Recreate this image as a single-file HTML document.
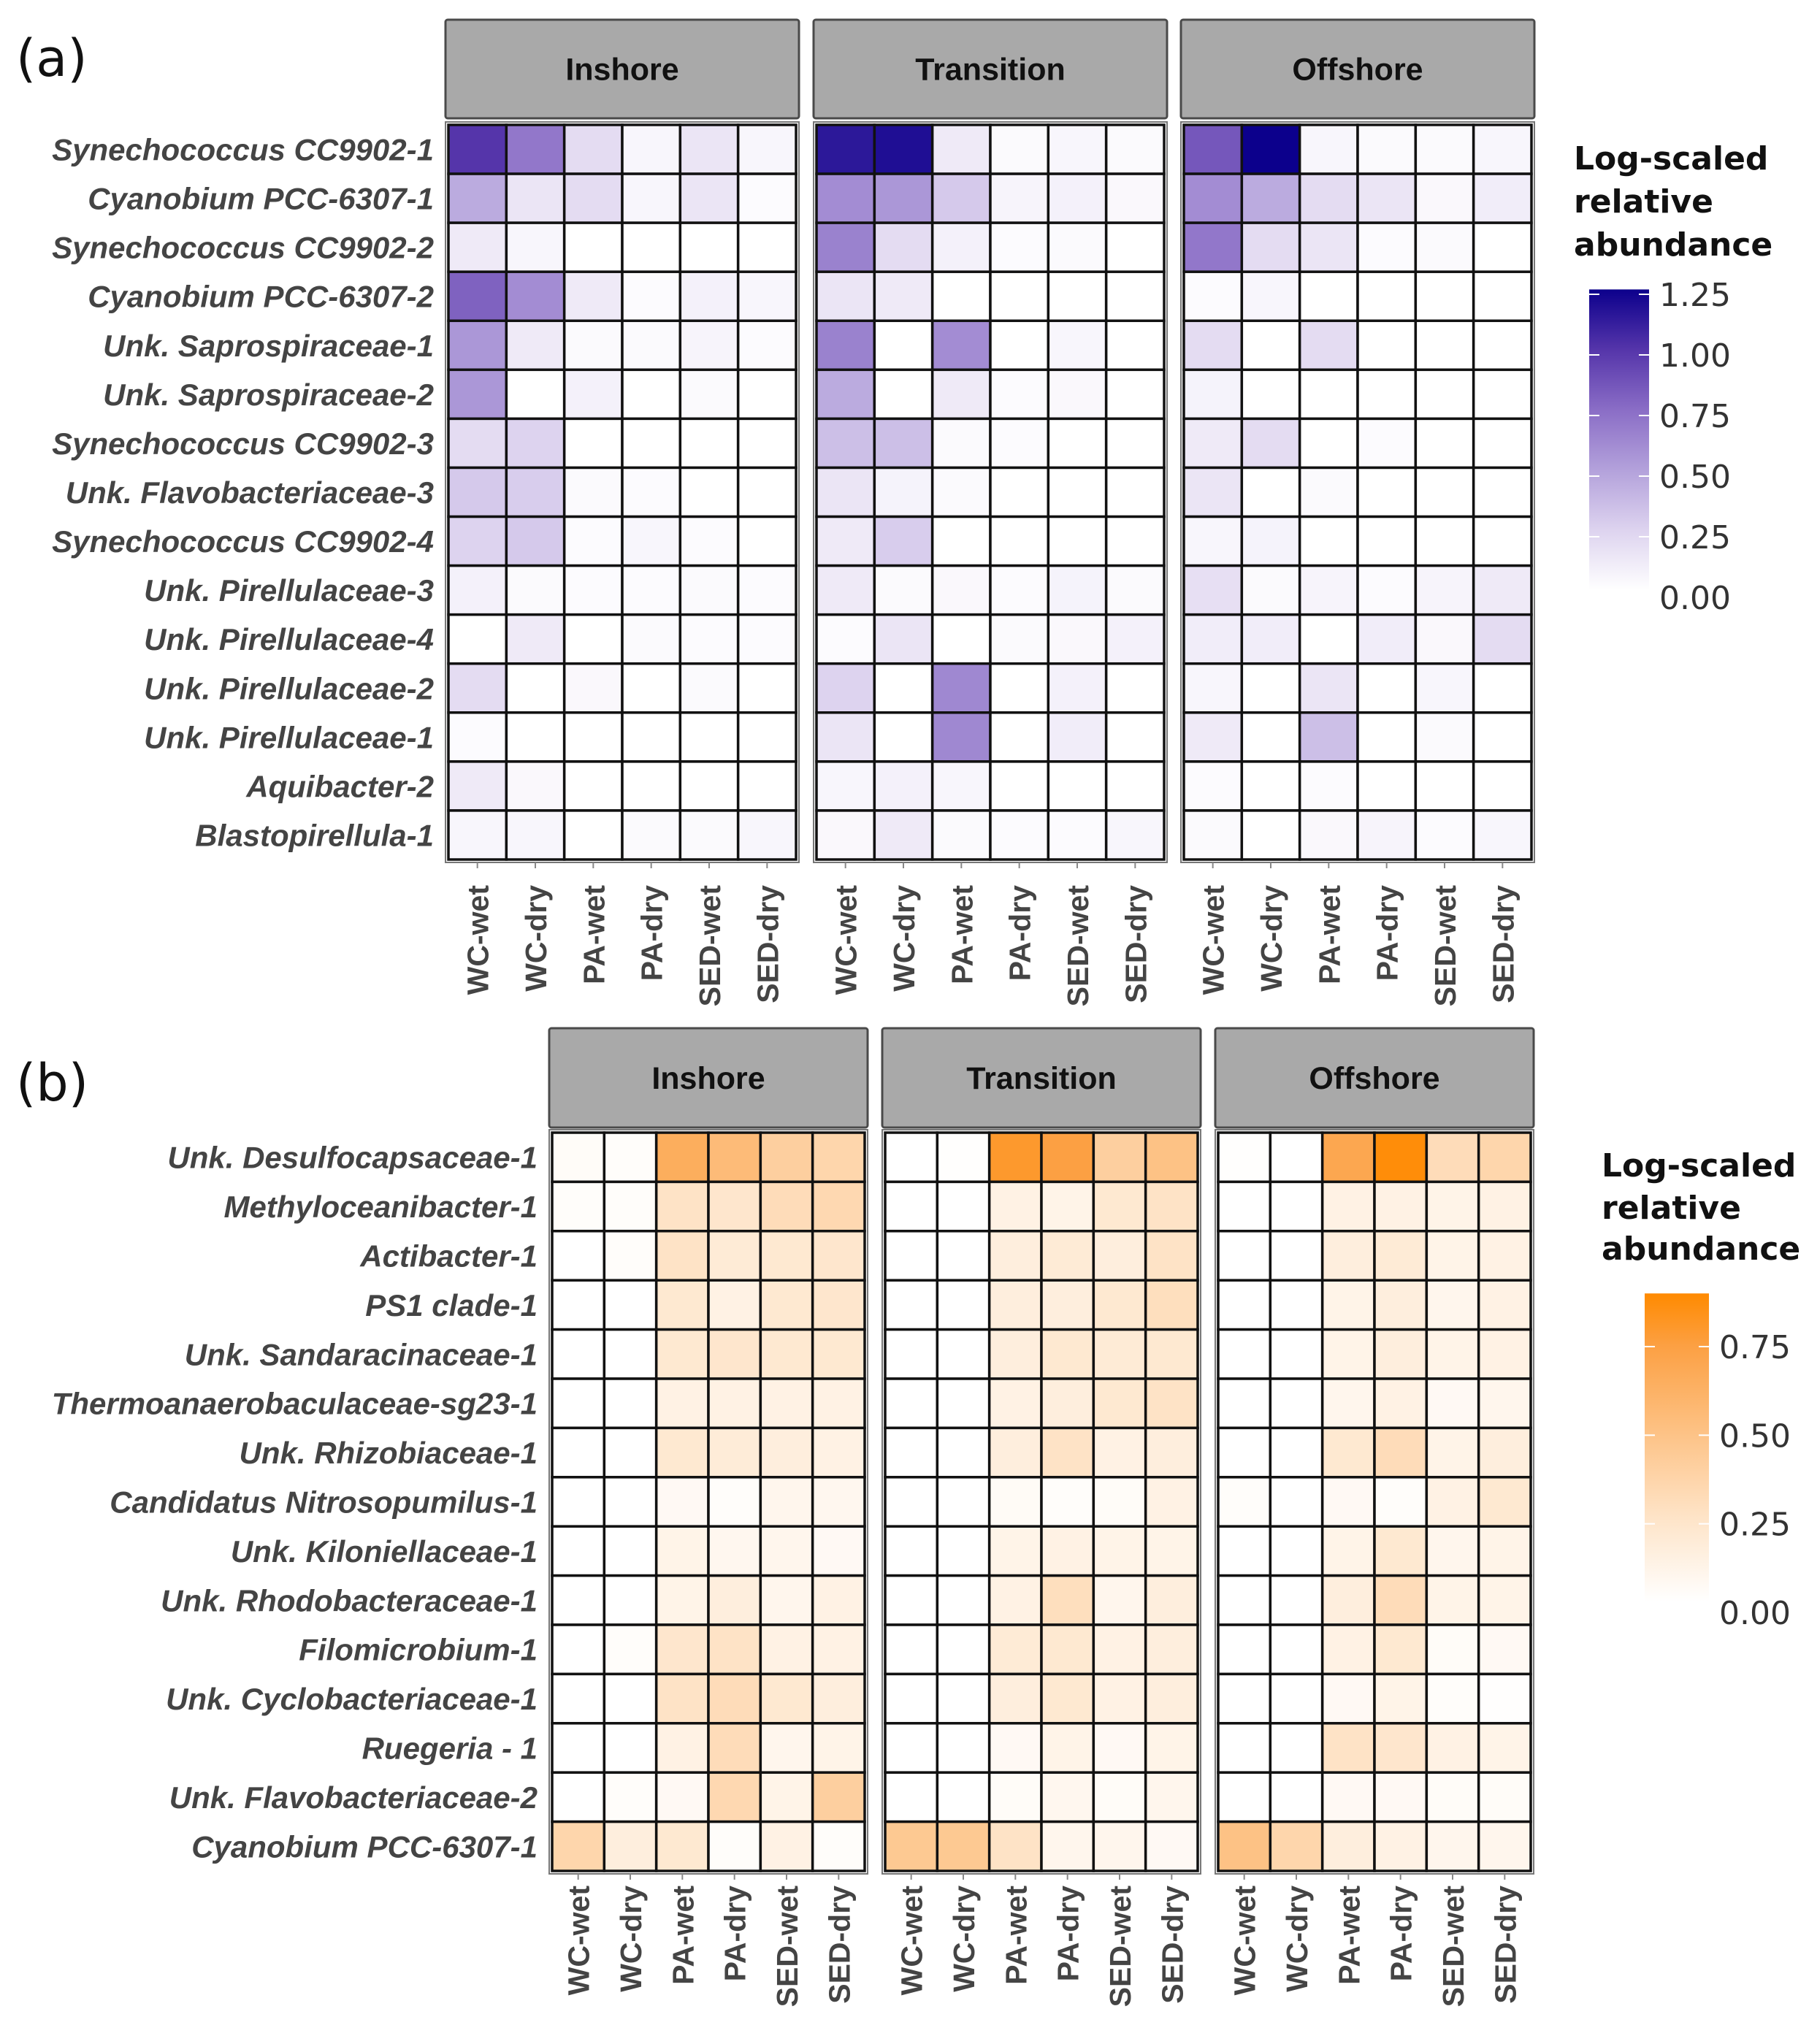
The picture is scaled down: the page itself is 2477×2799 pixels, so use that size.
<!DOCTYPE html>
<html><head><meta charset="utf-8"><style>
html,body{margin:0;padding:0;background:#fff;}
svg{display:block;}
</style></head><body>
<svg id="chart" xmlns="http://www.w3.org/2000/svg" width="2477" height="2799" viewBox="0 0 2477 2799">
<defs>
<linearGradient id="gradA" x1="0" y1="1" x2="0" y2="0">
<stop offset="0" stop-color="#ffffff"/><stop offset="0.2" stop-color="#ddd3ef"/><stop offset="0.4" stop-color="#b3a1db"/><stop offset="0.6" stop-color="#8a6dc6"/><stop offset="0.8" stop-color="#5535aa"/><stop offset="1" stop-color="#0c008c"/>
</linearGradient>
<linearGradient id="gradB" x1="0" y1="1" x2="0" y2="0">
<stop offset="0" stop-color="#ffffff"/><stop offset="0.28" stop-color="#fee3c6"/><stop offset="0.55" stop-color="#fdc285"/><stop offset="0.83" stop-color="#fca043"/><stop offset="1" stop-color="#ff8a00"/>
</linearGradient>
</defs>
<text x="22" y="104" font-family="DejaVu Sans, sans-serif" font-size="70" fill="#111">(a)</text>
<text x="22" y="1507" font-family="DejaVu Sans, sans-serif" font-size="70" fill="#111">(b)</text>
<g id="gA"></g>
<g id="gB"></g>
</svg>
<script>
const facets = ["Inshore","Transition","Offshore"];
const samples = ["WC-wet","WC-dry","PA-wet","PA-dry","SED-wet","SED-dry"];
const taxaA = ["Synechococcus CC9902-1","Cyanobium PCC-6307-1","Synechococcus CC9902-2","Cyanobium PCC-6307-2","Unk. Saprospiraceae-1","Unk. Saprospiraceae-2","Synechococcus CC9902-3","Unk. Flavobacteriaceae-3","Synechococcus CC9902-4","Unk. Pirellulaceae-3","Unk. Pirellulaceae-4","Unk. Pirellulaceae-2","Unk. Pirellulaceae-1","Aquibacter-2","Blastopirellula-1"];
const taxaB = ["Unk. Desulfocapsaceae-1","Methyloceanibacter-1","Actibacter-1","PS1 clade-1","Unk. Sandaracinaceae-1","Thermoanaerobaculaceae-sg23-1","Unk. Rhizobiaceae-1","Candidatus Nitrosopumilus-1","Unk. Kiloniellaceae-1","Unk. Rhodobacteraceae-1","Filomicrobium-1","Unk. Cyclobacteriaceae-1","Ruegeria - 1","Unk. Flavobacteriaceae-2","Cyanobium PCC-6307-1"];
const ticksA = [0,0.25,0.5,0.75,1.0,1.25];
const tickLabelsA = ["0.00","0.25","0.50","0.75","1.00","1.25"];
const ticksB = [0,0.25,0.5,0.75];
const tickLabelsB = ["0.00","0.25","0.50","0.75"];
// panel a values [facet][row][sample]
const inshoreA = [
[1.0,0.7,0.2,0.05,0.15,0.05],[0.45,0.15,0.2,0.05,0.15,0.02],[0.12,0.05,0,0,0,0],[0.8,0.6,0.12,0.02,0.08,0.05],
[0.55,0.12,0.03,0.03,0.06,0.02],[0.55,0,0.08,0,0.03,0],[0.2,0.25,0,0,0,0],[0.3,0.28,0.03,0.02,0,0],
[0.25,0.3,0.02,0.05,0.02,0],[0.08,0.03,0.02,0.02,0.03,0.02],[0,0.12,0,0.03,0.02,0.02],[0.2,0,0.04,0,0.03,0],
[0.02,0,0,0,0,0],[0.12,0.04,0,0,0,0],[0.05,0.05,0,0.03,0.03,0.05]];
const transitionA = [
[1.15,1.2,0.12,0.03,0.05,0.03],[0.6,0.55,0.3,0.06,0.08,0.04],[0.65,0.2,0.08,0.02,0.03,0],[0.15,0.12,0,0,0,0],
[0.65,0,0.6,0,0.05,0],[0.45,0,0.12,0.02,0.04,0],[0.35,0.35,0.03,0.02,0,0],[0.15,0.07,0.03,0,0,0],
[0.12,0.28,0,0,0,0],[0.12,0.03,0.04,0.02,0.07,0.03],[0.02,0.15,0,0.03,0.04,0.08],[0.25,0,0.62,0,0.08,0],
[0.15,0,0.62,0,0.1,0],[0.05,0.08,0.05,0,0,0],[0.04,0.12,0.03,0.02,0.02,0.05]];
const offshoreA = [
[0.85,1.27,0.05,0.03,0.03,0.05],[0.6,0.45,0.2,0.15,0.04,0.1],[0.7,0.2,0.15,0.02,0.03,0],[0.02,0.05,0,0,0,0],
[0.2,0,0.2,0,0,0],[0.07,0,0,0,0,0],[0.12,0.2,0,0.02,0,0],[0.15,0,0.03,0,0,0],
[0.05,0.07,0,0,0,0],[0.18,0.03,0.06,0.02,0.06,0.12],[0.1,0.1,0,0.1,0.04,0.2],[0.05,0,0.15,0,0.05,0],
[0.12,0,0.35,0,0.03,0],[0.02,0,0.02,0,0,0],[0.03,0,0.04,0.06,0.02,0.05]];
const inshoreB = [
[0.03,0.02,0.65,0.55,0.4,0.35],[0.02,0.02,0.25,0.22,0.3,0.33],[0,0.02,0.25,0.18,0.2,0.22],[0,0,0.2,0.12,0.2,0.22],
[0,0,0.2,0.22,0.2,0.2],[0,0,0.12,0.12,0.12,0.12],[0,0,0.2,0.17,0.15,0.12],[0,0,0.05,0.02,0.08,0.07],
[0,0,0.1,0.07,0.08,0.05],[0,0,0.1,0.15,0.08,0.12],[0,0.02,0.22,0.25,0.12,0.12],[0,0,0.25,0.3,0.2,0.15],
[0,0,0.12,0.3,0.08,0.1],[0,0.02,0.05,0.33,0.1,0.4],[0.35,0.15,0.2,0.02,0.12,0.02]];
const transitionB = [
[0,0.01,0.8,0.75,0.4,0.5],[0,0,0.12,0.1,0.2,0.25],[0,0,0.15,0.18,0.15,0.25],[0,0,0.15,0.15,0.2,0.28],
[0,0,0.15,0.2,0.18,0.2],[0,0,0.12,0.15,0.2,0.25],[0,0,0.15,0.25,0.12,0.15],[0,0,0.04,0.02,0.03,0.12],
[0,0,0.1,0.12,0.1,0.1],[0,0,0.12,0.28,0.08,0.15],[0,0,0.18,0.2,0.12,0.15],[0,0,0.15,0.2,0.12,0.15],
[0,0,0.05,0.1,0.05,0.1],[0,0,0.03,0.07,0.03,0.08],[0.45,0.45,0.25,0.08,0.08,0.05]];
const offshoreB = [
[0.01,0,0.7,0.88,0.3,0.35],[0,0,0.12,0.12,0.1,0.12],[0,0,0.15,0.18,0.1,0.12],[0,0,0.1,0.15,0.08,0.12],
[0,0,0.1,0.15,0.1,0.12],[0,0,0.08,0.12,0.05,0.08],[0,0,0.2,0.3,0.1,0.15],[0.02,0,0.05,0.02,0.12,0.2],
[0,0,0.1,0.2,0.08,0.1],[0,0,0.15,0.3,0.1,0.1],[0,0,0.12,0.2,0.03,0.05],[0,0,0.05,0.1,0.02,0.01],
[0,0,0.25,0.22,0.12,0.1],[0,0,0.05,0.05,0.03,0.03],[0.5,0.35,0.15,0.12,0.08,0.08]];

const NS="http://www.w3.org/2000/svg";
function mk(tag,attrs,parent){const e=document.createElementNS(NS,tag);for(const k in attrs)e.setAttribute(k,attrs[k]);parent.appendChild(e);return e;}
function hex(c){return [parseInt(c.slice(1,3),16),parseInt(c.slice(3,5),16),parseInt(c.slice(5,7),16)];}
function colorScale(stops,v){
  if(v<=stops[0][0])return stops[0][1];
  for(let i=1;i<stops.length;i++){if(v<=stops[i][0]){const a=hex(stops[i-1][1]),b=hex(stops[i][1]);const t=(v-stops[i-1][0])/(stops[i][0]-stops[i-1][0]);return "rgb("+a.map((x,j)=>Math.round(x+(b[j]-x)*t)).join(",")+")";}}
  return stops[stops.length-1][1];
}
const stopsA=[[0,"#ffffff"],[0.25,"#ddd3ef"],[0.5,"#b3a1db"],[0.75,"#8a6dc6"],[1.0,"#5535aa"],[1.27,"#0c008c"]];
const stopsB=[[0,"#ffffff"],[0.25,"#fee3c6"],[0.5,"#fdc285"],[0.75,"#fca043"],[0.9,"#ff8a00"]];

function drawPanel(g,cfg){
  const nR=cfg.taxa.length, nC=samples.length;
  const cw=(cfg.panelX[0][1]-cfg.panelX[0][0])/nC, rh=(cfg.gridY[1]-cfg.gridY[0])/nR;
  const yPos=r=>cfg.gridY[0]+r*rh;
  // row labels
  cfg.taxa.forEach((t,r)=>{
    const tx=mk("text",{x:cfg.labelX,y:yPos(r)+rh/2+15,"text-anchor":"end","font-family":"Liberation Sans, sans-serif","font-weight":"bold","font-style":"italic","font-size":42,fill:"#444"},g);
    tx.textContent=t;
    
    
  });
  cfg.panelX.forEach((px,f)=>{
    const x0=px[0];
    const xPos=c=>x0+c*cw;
    // strip
    const st=mk("rect",{x:x0-4,y:cfg.stripY[0],width:px[1]-px[0]+8,height:cfg.stripY[1]-cfg.stripY[0],fill:"#a9a9a9",stroke:"#4a4a4a","stroke-width":3,rx:3},g);
    
    
    const sl=mk("text",{x:(px[0]+px[1])/2,y:(cfg.stripY[0]+cfg.stripY[1])/2+15,"text-anchor":"middle","font-family":"Liberation Sans, sans-serif","font-weight":"bold","font-size":43,fill:"#111"},g);
    sl.textContent=facets[f];
    
    
    const pb=mk("rect",{x:x0-4,y:cfg.gridY[0]-4,width:px[1]-px[0]+8,height:cfg.gridY[1]-cfg.gridY[0]+8,fill:"#fff",stroke:"#777","stroke-width":2},g);
    
    
    const vals=cfg.data[f];
    for(let r=0;r<nR;r++)for(let c=0;c<nC;c++){
      const cell=mk("rect",{x:xPos(c),y:yPos(r),width:cw,height:rh,fill:colorScale(cfg.stops,vals[r][c]),stroke:"#111","stroke-width":3.5},g);
      
      
    }
    samples.forEach((s,c)=>{
      const cx=xPos(c)+cw/2;
      mk("line",{x1:cx,x2:cx,y1:cfg.gridY[1]+4,y2:cfg.gridY[1]+12,stroke:"#888","stroke-width":2},g);
      const lt=mk("text",{x:cx+15,y:cfg.xLabelY,"text-anchor":"end",transform:"rotate(-90 "+(cx+15)+" "+cfg.xLabelY+")","font-family":"Liberation Sans, sans-serif","font-weight":"bold","font-size":41,fill:"#444"},g);
      lt.textContent=s;
      
      
    });
  });
  // legend
  const L=cfg.legend;
  ["Log-scaled","relative","abundance"].forEach((w,i)=>{
    const t=mk("text",{x:L.titleX,y:L.titleY[i],"font-family":"DejaVu Sans, sans-serif","font-weight":"bold","font-size":44,fill:"#111"},g);
    t.textContent=w;
    
    
  });
  const vy=v=>L.y0-(v/L.vmax)*(L.y0-L.y1);
  const bar=mk("rect",{x:L.x,y:vy(L.top),width:L.w,height:vy(L.bottom)-vy(L.top),fill:L.grad},g);
  
  
  cfg.ticks.forEach((v,i)=>{
    const y=vy(v);
    mk("line",{x1:L.x,x2:L.x+14,y1:y,y2:y,stroke:"#fff","stroke-width":2},g);
    mk("line",{x1:L.x+L.w-14,x2:L.x+L.w,y1:y,y2:y,stroke:"#fff","stroke-width":2},g);
    const t=mk("text",{x:L.x+L.w+14,y:y+16,"font-family":"DejaVu Sans, sans-serif","font-size":44,fill:"#333"},g);
    t.textContent=cfg.tickLabels[i];
    
    
  });
}
drawPanel(document.getElementById("gA"),{
  taxa:taxaA,data:[inshoreA,transitionA,offshoreA],stops:stopsA,
  panelX:[[614,1090],[1118,1594],[1621,2097]],gridY:[171,1177],stripY:[27,162],labelX:594,xLabelY:1212,
  ticks:ticksA,tickLabels:tickLabelsA,
  legend:{titleX:2155,titleY:[232,291,350],x:2176,w:82,y0:818,y1:403,vmax:1.25,top:1.27,bottom:0.03,grad:"url(#gradA)"}
});
drawPanel(document.getElementById("gB"),{
  taxa:taxaB,data:[inshoreB,transitionB,offshoreB],stops:stopsB,
  panelX:[[756,1184],[1212,1640],[1668,2096]],gridY:[1551,2562],stripY:[1408,1544],labelX:736,xLabelY:2582,
  ticks:ticksB,tickLabels:tickLabelsB,
  legend:{titleX:2193,titleY:[1611,1669,1725],x:2252,w:88,y0:2208,y1:1844,vmax:0.75,top:0.9,bottom:0.03,grad:"url(#gradB)"}
});
</script>
</body></html>
